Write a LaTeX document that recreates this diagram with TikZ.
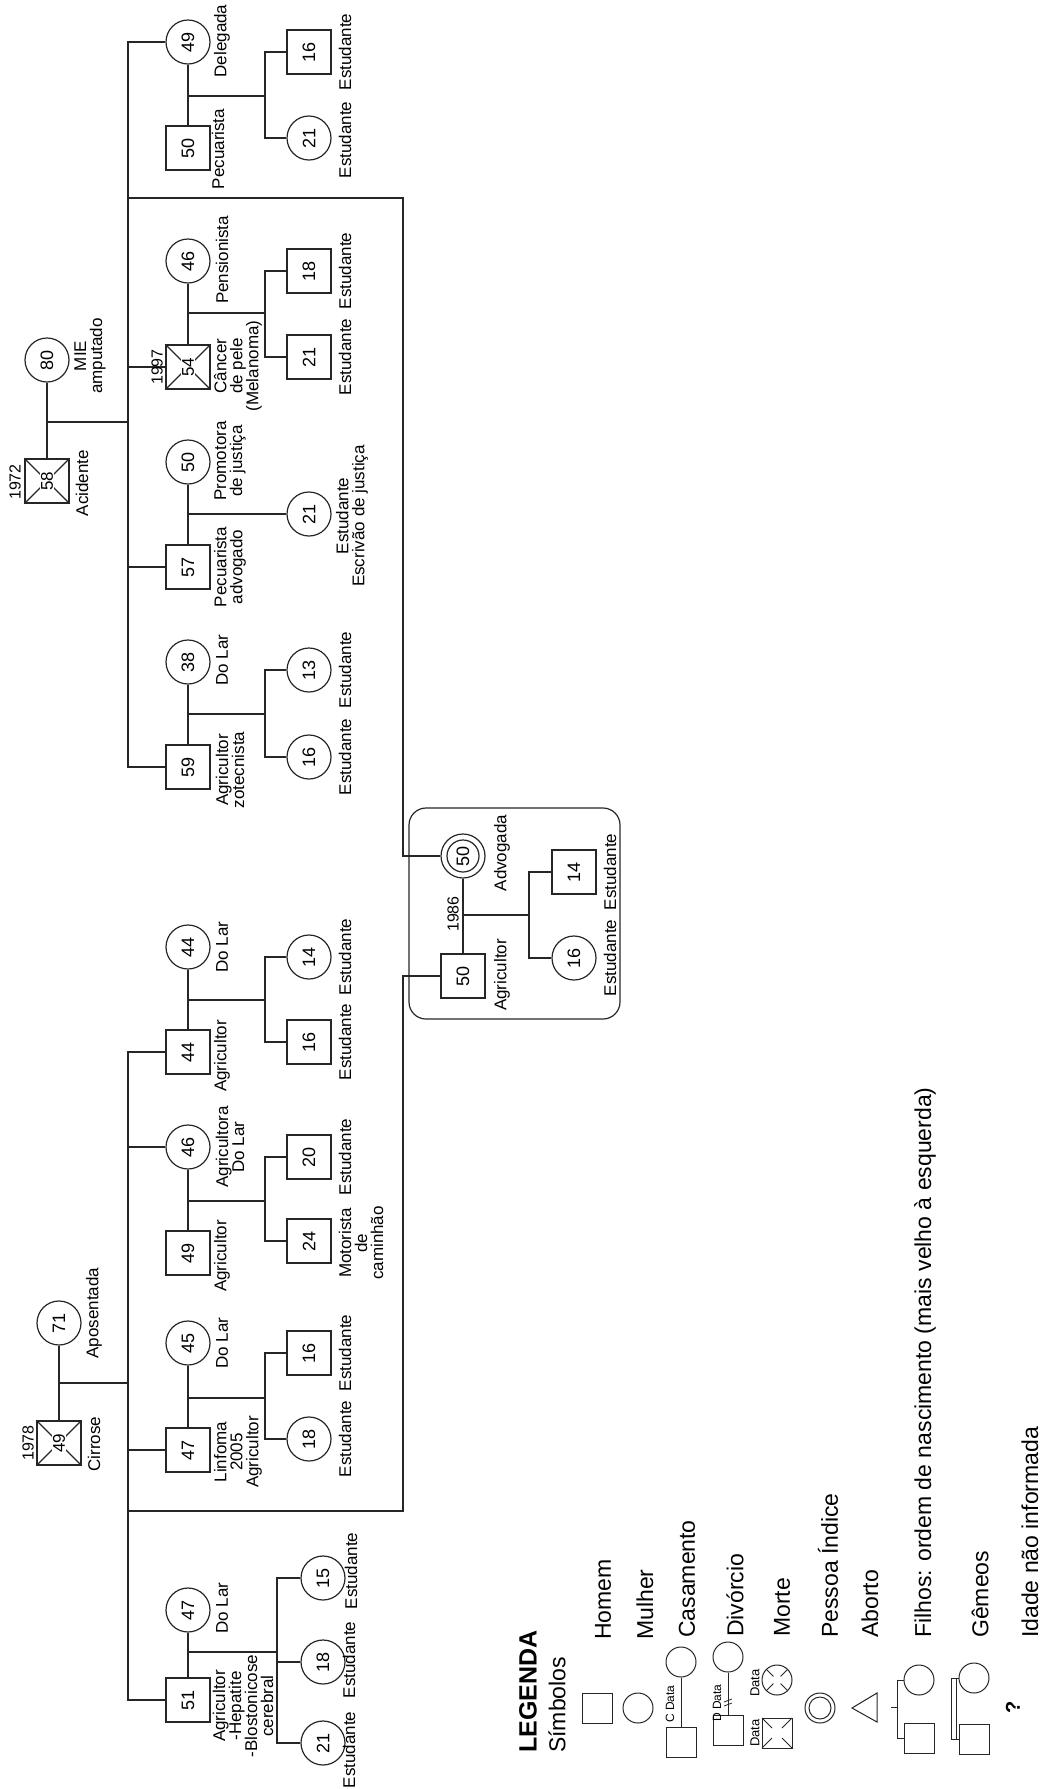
\documentclass[tikz,border=0pt]{standalone}
\usepackage{fontspec}
\setmainfont{Liberation Sans}
\begin{document}
\begin{tikzpicture}[x=1pt,y=-1pt,
  ln/.style={draw=black!85, line width=1.2pt},
  male/.style={draw=black!85, line width=1.2pt, rectangle, minimum size=44pt, inner sep=0pt, rotate=90, font=\fontsize{18}{18}\selectfont},
  female/.style={draw=black!85, line width=1.2pt, circle, minimum size=44pt, inner sep=0pt, rotate=90, font=\fontsize{18}{18}\selectfont},
  dnum/.style={fill=white, inner sep=1pt, rotate=90, font=\fontsize{17}{17}\selectfont},
  lbl/.style={rotate=90, inner sep=0pt, align=center, font=\fontsize{17}{16}\selectfont},
  yr/.style={rotate=90, inner sep=0pt, font=\fontsize{16}{16}\selectfont},
  leg/.style={rotate=90, inner sep=0pt, anchor=west, font=\fontsize{23}{23}\selectfont},
  tiny/.style={rotate=90, inner sep=0pt, font=\fontsize{12}{12}\selectfont},
  lmale/.style={draw=black!85, line width=1pt, rectangle, minimum size=30pt, inner sep=0pt},
  lfemale/.style={draw=black!85, line width=1pt, circle, minimum size=30pt, inner sep=0pt},
  lln/.style={draw=black!85, line width=1pt}
]
\useasboundingbox (0,0) rectangle (1044,1789);

% ================= Family A (58 + 80) =================
\node[female] (f80) at (47,360) {80};
\node[male] (m58) at (47,481) {};
\draw[ln] (m58.north west) -- (m58.south east) (m58.north east) -- (m58.south west);
\node[dnum] (n58) at (m58) {58};

\node[female] (f49) at (188,42) {49};
\node[male] (m50p) at (188,148) {50};
\node[male] (k16a) at (309,52) {16};
\node[female] (k21a) at (309,138) {21};

\node[female] (f46p) at (188,261) {46};
\node[male] (m54) at (188,367) {};
\draw[ln] (m54.north west) -- (m54.south east) (m54.north east) -- (m54.south west);
\node[dnum] (n54) at (m54) {54};
\node[male] (k18b) at (309,271) {18};
\node[male] (k21b) at (309,357) {21};

\node[female] (f50pr) at (188,462) {50};
\node[male] (m57) at (188,567) {57};
\node[female] (k21c) at (309,514) {21};

\node[female] (f38) at (188,662) {38};
\node[male] (m59) at (188,767) {59};
\node[female] (k13) at (309,670) {13};
\node[female] (k16d) at (309,757) {16};

\draw[ln] (f80) -- (m58);
\coordinate (cA) at (47,422);
\coordinate (sAt) at (128,42);
\coordinate (sAb) at (128,767);
\draw[ln] (cA) -- (cA -| sAt);
\draw[ln] (f49) -- (sAt) -- (sAb) -- (m59);
\draw[ln] (sAt |- m54) -- (m54);
\draw[ln] (sAt |- m57) -- (m57);

\draw[ln] (f49) -- (m50p);
\coordinate (c1) at (188,96); \coordinate (v1) at (265,96);
\draw[ln] (c1) -- (v1);
\draw[ln] (k16a) -- (k16a -| v1) -- (k21a -| v1) -- (k21a);

\draw[ln] (f46p) -- (m54);
\coordinate (c2) at (188,313); \coordinate (v2) at (265,313);
\draw[ln] (c2) -- (v2);
\draw[ln] (k18b) -- (k18b -| v2) -- (k21b -| v2) -- (k21b);

\draw[ln] (f50pr) -- (m57);
\coordinate (c3) at (188,514);
\draw[ln] (c3) -- (k21c);

\draw[ln] (f38) -- (m59);
\coordinate (c4) at (188,714); \coordinate (v4) at (265,714);
\draw[ln] (c4) -- (v4);
\draw[ln] (k13) -- (k13 -| v4) -- (k16d -| v4) -- (k16d);

% ================= Index couple =================
\draw[ln, rounded corners=17pt] (409,808) rectangle (620,1019);
\node[female] (fI) at (463,856) {50};
\draw[ln] (fI.center) circle[radius=16pt];
\node[male] (mI) at (463,976) {50};
\node[male] (k14i) at (574,872) {14};
\node[female] (k16i) at (574,958) {16};
\draw[ln] (fI) -- (mI);
\coordinate (c5) at (463,915); \coordinate (v5) at (529,915);
\draw[ln] (c5) -- (v5);
\draw[ln] (k14i) -- (k14i -| v5) -- (k16i -| v5) -- (k16i);

\coordinate (jA) at (128,198); \coordinate (kA) at (403,198);
\draw[ln] (jA) -- (kA) -- (kA |- fI) -- (fI);
\coordinate (kB) at (403,1511); \coordinate (jB) at (128,1511);
\draw[ln] (mI) -- (mI -| kB) -- (kB) -- (jB);

% ================= Family B (49 + 71) =================
\node[female] (f71) at (59,1323) {71};
\node[male] (m49g) at (59,1443) {};
\draw[ln] (m49g.north west) -- (m49g.south east) (m49g.north east) -- (m49g.south west);
\node[dnum] (n49) at (m49g) {49};

\node[female] (f44w) at (188,947) {44};
\node[male] (m44) at (188,1052) {44};
\node[female] (k14e) at (309,957) {14};
\node[male] (k16e) at (309,1042) {16};

\node[female] (f46b) at (188,1147) {46};
\node[male] (m49b) at (188,1253) {49};
\node[male] (k20) at (309,1157) {20};
\node[male] (k24) at (309,1241) {24};

\node[female] (f45) at (188,1343) {45};
\node[male] (m47) at (188,1450) {47};
\node[male] (k16g) at (309,1353) {16};
\node[female] (k18g) at (309,1439) {18};

\node[female] (f47) at (188,1610) {47};
\node[male] (m51) at (188,1700) {51};
\node[female] (k15h) at (323,1578) {15};
\node[female] (k18h) at (323,1662) {18};
\node[female] (k21h) at (323,1743) {21};

\draw[ln] (f71) -- (m49g);
\coordinate (cB) at (59,1383);
\coordinate (sBt) at (128,1052);
\coordinate (sBb) at (128,1700);
\draw[ln] (cB) -- (cB -| sBt);
\draw[ln] (m44) -- (sBt) -- (sBb) -- (m51);
\draw[ln] (sBt |- f46b) -- (f46b);
\draw[ln] (sBt |- m47) -- (m47);

\draw[ln] (f44w) -- (m44);
\coordinate (c6) at (188,1000); \coordinate (v6) at (265,1000);
\draw[ln] (c6) -- (v6);
\draw[ln] (k14e) -- (k14e -| v6) -- (k16e -| v6) -- (k16e);

\draw[ln] (f46b) -- (m49b);
\coordinate (c7) at (188,1201); \coordinate (v7) at (265,1201);
\draw[ln] (c7) -- (v7);
\draw[ln] (k20) -- (k20 -| v7) -- (k24 -| v7) -- (k24);

\draw[ln] (f45) -- (m47);
\coordinate (c8) at (188,1398); \coordinate (v8) at (265,1398);
\draw[ln] (c8) -- (v8);
\draw[ln] (k16g) -- (k16g -| v8) -- (k18g -| v8) -- (k18g);

\draw[ln] (f47) -- (m51);
\coordinate (c9) at (188,1652); \coordinate (v9) at (277,1652);
\draw[ln] (c9) -- (v9);
\draw[ln] (k15h) -- (k15h -| v9) -- (k21h -| v9) -- (k21h);
\draw[ln] (k18h -| v9) -- (k18h);

% ================= Labels =================
\node[lbl] (t1) at (222,41) {Delegada};
\node[lbl] (t2) at (218,149) {Pecuarista};
\node[lbl] (t3) at (345,52) {Estudante};
\node[lbl] (t4) at (345,140) {Estudante};
\node[lbl] (t5) at (222,260) {Pensionista};
\node[lbl] (t6) at (345,271) {Estudante};
\node[lbl] (t7) at (345,357) {Estudante};
\node[yr] (t8) at (157,367) {1997};
\node[lbl] (t9) at (238,366) {Câncer\\de pele\\(Melanoma)};
\node[lbl] (t10) at (90,356) {MIE\\amputado};
\node[yr] (t11) at (15,482) {1972};
\node[lbl] (t12) at (82,483) {Acidente};
\node[lbl] (t13) at (230,461) {Promotora\\de justiça};
\node[lbl] (t14) at (230,567) {Pecuarista\\advogado};
\node[lbl] (t15) at (352,516) {Estudante\\Escrivão de justiça};
\node[lbl] (t16) at (222,660) {Do Lar};
\node[lbl] (t17) at (230,770) {Agricultor\\zotecnista};
\node[lbl] (t18) at (345,670) {Estudante};
\node[lbl] (t19) at (345,757) {Estudante};

\node[lbl] (t20) at (502,853) {Advogada};
\node[yr] (t21) at (453,914) {1986};
\node[lbl] (t22) at (502,975) {Agricultor};
\node[lbl] (t23) at (610,872) {Estudante};
\node[lbl] (t24) at (610,958) {Estudante};

\node[lbl] (t25) at (94,1313) {Aposentada};
\node[yr] (t26) at (28,1443) {1978};
\node[lbl] (t27) at (94,1444) {Cirrose};
\node[lbl] (t28) at (222,947) {Do Lar};
\node[lbl] (t29) at (222,1056) {Agricultor};
\node[lbl] (t30) at (345,957) {Estudante};
\node[lbl] (t31) at (345,1042) {Estudante};
\node[lbl] (t32) at (230,1147) {Agricultora\\Do Lar};
\node[lbl] (t33) at (222,1256) {Agricultor};
\node[lbl] (t34) at (345,1157) {Estudante};
\node[lbl] (t35) at (361,1243) {Motorista\\de\\caminhão};
\node[lbl] (t36) at (222,1343) {Do Lar};
\node[lbl] (t37) at (238,1452) {Linfoma\\2005\\Agricultor};
\node[lbl] (t38) at (345,1353) {Estudante};
\node[lbl] (t39) at (345,1439) {Estudante};
\node[lbl] (t40) at (222,1608) {Do Lar};
\node[lbl] (t41) at (243,1706) {Agricultor\\-Hepatite\\-Blostonicose\\cerebral};
\node[lbl] (t42) at (351,1571) {Estudante};
\node[lbl] (t43) at (349,1660) {Estudante};
\node[lbl] (t44) at (349,1750) {Estudante};

% ================= Legend =================
\node[leg, font=\fontsize{25}{25}\selectfont\bfseries] (g1) at (528,1753) {LEGENDA};
\node[leg] (g2) at (557,1753) {Símbolos};

\node[lmale] (lm1) at (597,1708) {};
\node[leg] (g3) at (603,1640) {Homem};
\node[lfemale] (lf1) at (638,1708) {};
\node[leg] (g4) at (645,1640) {Mulher};

\node[lfemale] (lf2) at (681,1662) {};
\node[lmale] (lm2) at (681,1742) {};
\draw[lln] (lf2) -- (lm2);
\node[tiny] (g5) at (670,1704) {C Data};
\node[leg] (g6) at (687,1638) {Casamento};

\node[lfemale] (lf3) at (728,1657) {};
\node[lmale] (lm3) at (728,1730) {};
\draw[lln] (lf3) -- (lm3);
\draw[lln, line width=0.8pt] (724,1702) -- (732,1699) (724,1706) -- (732,1703);
\node[tiny] (g7) at (717,1703) {D Data};
\node[leg] (g8) at (735,1637) {Divórcio};

\node[lmale] (lm4) at (777,1733) {};
\draw[lln] (lm4.center) ++(-15,-15) -- ++(10,10);
\draw[lln] (lm4.center) ++(15,-15) -- ++(-10,10);
\draw[lln] (lm4.center) ++(-15,15) -- ++(10,-10);
\draw[lln] (lm4.center) ++(15,15) -- ++(-10,-10);
\node[lfemale] (lf4) at (777,1680) {};
\draw[lln] (lf4.center) ++(-10.6,-10.6) -- ++(7,7);
\draw[lln] (lf4.center) ++(10.6,-10.6) -- ++(-7,7);
\draw[lln] (lf4.center) ++(-10.6,10.6) -- ++(7,-7);
\draw[lln] (lf4.center) ++(10.6,10.6) -- ++(-7,-7);
\node[tiny, font=\fontsize{13}{13}\selectfont] (g9) at (755,1733) {Data};
\node[tiny, font=\fontsize{13}{13}\selectfont] (g10) at (755,1683) {Data};
\node[leg] (g11) at (782,1637) {Morte};

\node[lfemale] (lf5) at (820,1708) {};
\draw[lln] (lf5.center) circle[radius=11pt];
\node[leg] (g12) at (828,1638) {Pessoa Índice};

\coordinate (ab1) at (852,1708);
\coordinate (ab2) at (877,1693);
\coordinate (ab3) at (877,1722);
\draw[lln] (ab1) -- (ab2) -- (ab3) -- cycle;
\node[leg] (g13) at (870,1638) {Aborto};

\node[lfemale] (lf6) at (919,1680) {};
\node[lmale] (lm6) at (919,1738) {};
\coordinate (fl1) at (897,1680);
\coordinate (fl2) at (897,1738);
\coordinate (fl3) at (891,1707);
\coordinate (fl4) at (897,1707);
\draw[lln] (lf6) -- (fl1) -- (fl2) -- (lm6);
\draw[lln] (fl3) -- (fl4);
\node[leg] (g14) at (925,1638) {Filhos: ordem de nascimento (mais velho à esquerda)};

\node[lfemale] (lf7) at (974,1678) {};
\node[lmale] (lm7) at (974,1739) {};
\coordinate (gm1) at (951,1678);
\coordinate (gm2) at (956,1739);
\draw[lln, line width=0.8pt] (gm1) rectangle (gm2);
\draw[lln] (lf7) -- (lf7 -| gm2);
\draw[lln] (lm7) -- (lm7 -| gm2);
\node[leg] (g15) at (980,1638) {Gêmeos};

\node[rotate=90, inner sep=0pt, font=\fontsize{20}{20}\selectfont\bfseries] (g16) at (1013,1707) {?};
\node[leg] (g17) at (1030,1638) {Idade não informada};
\end{tikzpicture}
\end{document}
